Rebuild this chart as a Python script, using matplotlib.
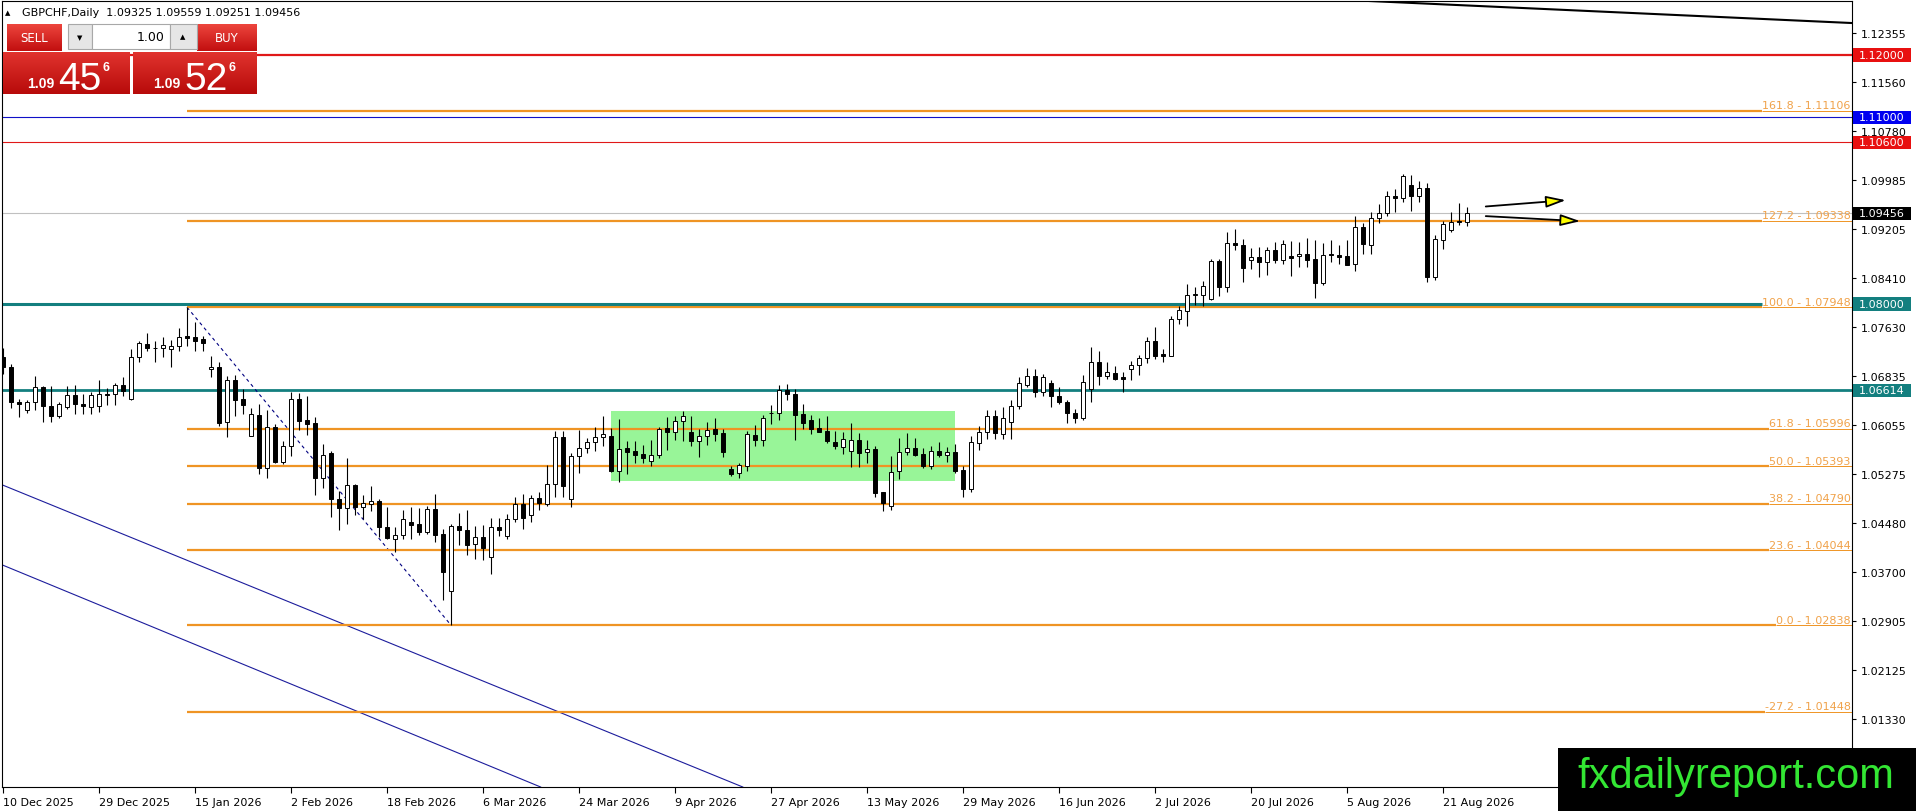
import matplotlib
matplotlib.use("Agg")
import matplotlib.pyplot as plt
import numpy as np
from matplotlib.patches import Rectangle, FancyArrowPatch

# ---- data (GBPCHF daily, bar 0 = 10 Dec 2025) ----
opens = [1.0714, 1.0698, 1.0642, 1.0629, 1.0642, 1.0666, 1.0636, 1.0620, 1.0634, 1.0653,
         1.0640, 1.0634, 1.0636, 1.0656, 1.0656, 1.0669, 1.0647, 1.0715, 1.0736, 1.0730,
         1.0730, 1.0727, 1.0732, 1.0748, 1.0747, 1.0743, 1.0695, 1.0698, 1.0610, 1.0678,
         1.0647, 1.0588, 1.0622, 1.0536, 1.0603, 1.0546, 1.0572, 1.0648, 1.0614, 1.0609,
         1.0521, 1.0561, 1.0487, 1.0472, 1.0509, 1.0473, 1.0478, 1.0483, 1.0441, 1.0423,
         1.0429, 1.0450, 1.0446, 1.0433, 1.0471, 1.0430, 1.0339, 1.0443, 1.0437, 1.0415,
         1.0425, 1.0394, 1.0442, 1.0427, 1.0454, 1.0478, 1.0461, 1.0488, 1.0479, 1.0510,
         1.0586, 1.0486, 1.0555, 1.0568, 1.0578, 1.0586, 1.0587, 1.0532, 1.0568, 1.0563,
         1.0559, 1.0548, 1.0558, 1.0600, 1.0594, 1.0612, 1.0594, 1.0580, 1.0587, 1.0599,
         1.0593, 1.0534, 1.0528, 1.0540, 1.0589, 1.0582, 1.0624, 1.0624, 1.0662, 1.0655,
         1.0623, 1.0613, 1.0601, 1.0596, 1.0578, 1.0570, 1.0564, 1.0582, 1.0562, 1.0567,
         1.0497, 1.0475, 1.0531, 1.0562, 1.0568, 1.0559, 1.0540, 1.0563, 1.0558, 1.0562,
         1.0533, 1.0502, 1.0576, 1.0594, 1.0620, 1.0591, 1.0610, 1.0636, 1.0670, 1.0685,
         1.0658, 1.0673, 1.0652, 1.0642, 1.0625, 1.0617, 1.0663, 1.0707, 1.0684, 1.0689,
         1.0682, 1.0696, 1.0702, 1.0713, 1.0740, 1.0720, 1.0717, 1.0776, 1.0789, 1.0815,
         1.0815, 1.0808, 1.0869, 1.0827, 1.0898, 1.0895, 1.0871, 1.0875, 1.0867, 1.0887,
         1.0870, 1.0877, 1.0877, 1.0880, 1.0872, 1.0833, 1.0880, 1.0879, 1.0877, 1.0864,
         1.0923, 1.0894, 1.0938, 1.0946, 1.0973, 1.0971, 1.0991, 1.0974, 1.0987, 1.0843,
         1.0903, 1.0919, 1.0933, 1.09325]
highs = [1.0729, 1.0704, 1.0647, 1.0645, 1.0684, 1.0668, 1.0668, 1.0642, 1.0668, 1.0670,
         1.0655, 1.0658, 1.0678, 1.0665, 1.0673, 1.0682, 1.0728, 1.0741, 1.0754, 1.0741,
         1.0747, 1.0742, 1.0761, 1.07948, 1.0771, 1.0749, 1.0717, 1.0707, 1.0684, 1.0686,
         1.0663, 1.0632, 1.0639, 1.0629, 1.0607, 1.0580, 1.0658, 1.0657, 1.0652, 1.0618,
         1.0575, 1.0563, 1.0500, 1.0552, 1.0511, 1.0493, 1.0508, 1.0487, 1.0473, 1.0441,
         1.0469, 1.0473, 1.0472, 1.0475, 1.0494, 1.0439, 1.0446, 1.0464, 1.0469, 1.0443,
         1.0444, 1.0456, 1.0456, 1.0463, 1.0489, 1.0495, 1.0493, 1.0497, 1.0541, 1.0596,
         1.0596, 1.0561, 1.0598, 1.0584, 1.0602, 1.0620, 1.0600, 1.0615, 1.0580, 1.0579,
         1.0573, 1.0581, 1.0603, 1.0618, 1.0620, 1.0628, 1.0620, 1.0599, 1.0610, 1.0616,
         1.0599, 1.0539, 1.0545, 1.0596, 1.0606, 1.0621, 1.0638, 1.0669, 1.0671, 1.0664,
         1.0639, 1.0622, 1.0616, 1.0620, 1.0596, 1.0594, 1.0609, 1.0593, 1.0582, 1.0571,
         1.0498, 1.0555, 1.0584, 1.0593, 1.0584, 1.0568, 1.0572, 1.0578, 1.0570, 1.0575,
         1.0540, 1.0587, 1.0604, 1.0629, 1.0629, 1.0634, 1.0646, 1.0682, 1.0697, 1.0696,
         1.0688, 1.0677, 1.0666, 1.0645, 1.0631, 1.0686, 1.0731, 1.0725, 1.0706, 1.0700,
         1.0691, 1.0709, 1.0718, 1.0747, 1.0763, 1.0728, 1.0781, 1.0796, 1.0832, 1.0827,
         1.0837, 1.0873, 1.0873, 1.0916, 1.0920, 1.0904, 1.0890, 1.0891, 1.0891, 1.0899,
         1.0903, 1.0901, 1.0899, 1.0906, 1.0902, 1.0898, 1.0902, 1.0894, 1.0902, 1.0941,
         1.0930, 1.0947, 1.0961, 1.0982, 1.0984, 1.1009, 1.1007, 1.0998, 1.0994, 1.0911,
         1.0934, 1.0947, 1.0963, 1.09559]
lows = [1.0688, 1.0632, 1.0618, 1.0625, 1.0629, 1.0610, 1.0610, 1.0617, 1.0631, 1.0623,
        1.0623, 1.0623, 1.0627, 1.0638, 1.0637, 1.0652, 1.0646, 1.0706, 1.0725, 1.0706,
        1.0715, 1.0699, 1.0724, 1.0732, 1.0725, 1.0725, 1.0682, 1.0604, 1.0586, 1.0620,
        1.0623, 1.0587, 1.0527, 1.0521, 1.0544, 1.0543, 1.0555, 1.0598, 1.0590, 1.0493,
        1.0504, 1.0457, 1.0436, 1.0446, 1.0461, 1.0454, 1.0468, 1.0425, 1.0422, 1.0401,
        1.0422, 1.0422, 1.0428, 1.0430, 1.0417, 1.0325, 1.02838, 1.0412, 1.0397, 1.0390,
        1.0389, 1.0366, 1.0427, 1.0422, 1.0449, 1.0439, 1.0449, 1.0469, 1.0476, 1.0490,
        1.0490, 1.0473, 1.0528, 1.0561, 1.0563, 1.0571, 1.0530, 1.0514, 1.0527, 1.0544,
        1.0545, 1.0540, 1.0552, 1.0565, 1.0582, 1.0580, 1.0572, 1.0554, 1.0573, 1.0579,
        1.0554, 1.0523, 1.0520, 1.0531, 1.0572, 1.0571, 1.0607, 1.0613, 1.0646, 1.0582,
        1.0599, 1.0591, 1.0594, 1.0577, 1.0567, 1.0559, 1.0538, 1.0538, 1.0544, 1.0490,
        1.0468, 1.0469, 1.0518, 1.0558, 1.0556, 1.0537, 1.0534, 1.0554, 1.0546, 1.0529,
        1.0490, 1.0498, 1.0566, 1.0583, 1.0583, 1.0583, 1.0583, 1.0631, 1.0666, 1.0650,
        1.0652, 1.0634, 1.0639, 1.0608, 1.0608, 1.0614, 1.0643, 1.0669, 1.0679, 1.0678,
        1.0658, 1.0678, 1.0686, 1.0705, 1.0712, 1.0707, 1.0716, 1.0767, 1.0765, 1.0798,
        1.0796, 1.0807, 1.0813, 1.0819, 1.0886, 1.0836, 1.0856, 1.0843, 1.0847, 1.0866,
        1.0864, 1.0845, 1.0859, 1.0859, 1.0809, 1.0830, 1.0868, 1.0864, 1.0862, 1.0853,
        1.0881, 1.0881, 1.0930, 1.0942, 1.0948, 1.0964, 1.0950, 1.0964, 1.0836, 1.0838,
        1.0889, 1.0915, 1.0927, 1.09251]
closes = [1.0698, 1.0642, 1.0639, 1.0642, 1.0666, 1.0636, 1.0620, 1.0640, 1.0653, 1.0640,
          1.0636, 1.0653, 1.0655, 1.0654, 1.0669, 1.0660, 1.0714, 1.0737, 1.0729, 1.0730,
          1.0734, 1.0732, 1.0747, 1.0746, 1.0741, 1.0738, 1.0699, 1.0609, 1.0678, 1.0646,
          1.0637, 1.0623, 1.0536, 1.0603, 1.0546, 1.0571, 1.0648, 1.0612, 1.0607, 1.0521,
          1.0557, 1.0486, 1.0472, 1.0509, 1.0473, 1.0480, 1.0483, 1.0441, 1.0424, 1.0429,
          1.0454, 1.0445, 1.0433, 1.0471, 1.0429, 1.0370, 1.0443, 1.0437, 1.0413, 1.0425,
          1.0408, 1.0441, 1.0437, 1.0454, 1.0478, 1.0456, 1.0488, 1.0480, 1.0510, 1.0586,
          1.0508, 1.0555, 1.0568, 1.0578, 1.0586, 1.0591, 1.0532, 1.0567, 1.0562, 1.0558,
          1.0553, 1.0558, 1.0599, 1.0594, 1.0612, 1.0620, 1.0580, 1.0587, 1.0598, 1.0591,
          1.0562, 1.0527, 1.0541, 1.0591, 1.0582, 1.0616, 1.0625, 1.0662, 1.0656, 1.0622,
          1.0609, 1.0599, 1.0595, 1.0579, 1.0571, 1.0583, 1.0582, 1.0561, 1.0567, 1.0496,
          1.0480, 1.0530, 1.0562, 1.0568, 1.0557, 1.0539, 1.0563, 1.0557, 1.0562, 1.0532,
          1.0503, 1.0578, 1.0594, 1.0620, 1.0593, 1.0616, 1.0636, 1.0673, 1.0685, 1.0658,
          1.0682, 1.0652, 1.0642, 1.0624, 1.0616, 1.0675, 1.0707, 1.0684, 1.0690, 1.0680,
          1.0680, 1.0702, 1.0713, 1.0740, 1.0717, 1.0717, 1.0776, 1.0790, 1.0815, 1.0816,
          1.0829, 1.0869, 1.0828, 1.0898, 1.0894, 1.0857, 1.0875, 1.0867, 1.0887, 1.0870,
          1.0896, 1.0874, 1.0880, 1.0871, 1.0833, 1.0879, 1.0878, 1.0876, 1.0863, 1.0923,
          1.0897, 1.0938, 1.0946, 1.0973, 1.0971, 1.1005, 1.0974, 1.0987, 1.0843, 1.0904,
          1.0928, 1.0931, 1.0931, 1.09456]

date_ticks = list(range(0, 181, 12))
date_labels = ["10 Dec 2025", "29 Dec 2025", "15 Jan 2026", "2 Feb 2026", "18 Feb 2026",
               "6 Mar 2026", "24 Mar 2026", "9 Apr 2026", "27 Apr 2026", "13 May 2026",
               "29 May 2026", "16 Jun 2026", "2 Jul 2026", "20 Jul 2026", "5 Aug 2026",
               "21 Aug 2026"]
price_ticks = [1.12355, 1.11560, 1.10780, 1.09985, 1.09205, 1.08410, 1.07630, 1.06835,
               1.06055, 1.05275, 1.04480, 1.03700, 1.02905, 1.02125, 1.01330]

fib_levels = [161.8, 127.2, 100.0, 61.8, 50.0, 38.2, 23.6, 0.0, -27.2]
fib_prices = [1.11106, 1.09338, 1.07948, 1.05996, 1.05393, 1.04790, 1.04044, 1.02838, 1.01448]
fib_anchor = [(23, 1.07948), (56, 1.02838)]

# horizontal levels: price, colour, width, box label colour
levels = [(1.12000, "#e01818", 1.6, "#e81010"),
          (1.11000, "#1010c8", 0.8, "#0000f0"),
          (1.10600, "#e01818", 0.8, "#e81010"),
          (1.06614, "#137f7f", 2.0, "#137f7f")]
current_price = 1.09456
teal_level = 1.08000

zone = (76, 119, 1.0515, 1.06275)  # x0, x1, low, high
trend_top = [(173.5, 1.12853), (231.1, 1.12515)]
channel = [[(-0.375, 1.05107), (91.25, 1.00301)],
           [(-0.375, 1.03821), (66.9, 1.00253)]]
arrows = [((185.0, 1.09563), (195.7, 1.09671)),
          ((185.0, 1.09414), (197.5, 1.09328))]

FIB = "#ef9424"
FIB_TXT = "#f0a24a"

W, H = 1916, 812
fig = plt.figure(figsize=(W / 100, H / 100), dpi=100)
fig.patch.set_facecolor("white")
ax = fig.add_axes([2 / W, 24 / H, 1850 / W, 786 / H])
ax.set_xlim(-0.125, 231.125)
ax.set_ylim(1.00237, 1.12869)
for s in ax.spines.values():
    s.set_color("black")
    s.set_linewidth(0.8)

# zone
ax.add_patch(Rectangle((zone[0], zone[2]), zone[1] - zone[0], zone[3] - zone[2],
                       facecolor="#98f598", edgecolor="none", zorder=1))

# horizontal levels
for p, col, lw, _ in levels:
    ax.axhline(p, color=col, lw=lw, zorder=2)
ax.axhline(current_price, color="#c0c0c0", lw=0.8, zorder=2)

# diagonal lines
ax.axline(trend_top[0], trend_top[1], color="black", lw=1.5, zorder=2)
for a, b in channel:
    ax.axline(a, b, color="#1c1c9c", lw=0.8, zorder=2)
ax.plot([fib_anchor[0][0], fib_anchor[1][0]], [fib_anchor[0][1], fib_anchor[1][1]],
        color="#000080", lw=0.8, ls=(0, (3, 3)), zorder=2)

# fibo labels, then the lines up to them
fib_texts = []
for lvl, p in zip(fib_levels, fib_prices):
    t = ax.text(0.9993, p + 0.00004, f"{lvl:.1f} - {p:.5f}", transform=ax.get_yaxis_transform(),
                ha="right", va="bottom", color=FIB_TXT, fontsize=8, zorder=4)
    fib_texts.append(t)
fig.canvas.draw()
inv = ax.transData.inverted()
xmax = ax.get_xlim()[1]
for t, p in zip(fib_texts, fib_prices):
    ext = t.get_window_extent()
    x_txt = inv.transform((ext.x0, ext.y0))[0]
    ax.hlines(p, fib_anchor[0][0], x_txt, color=FIB, lw=1.6, zorder=2)
    ax.hlines(p, x_txt, xmax, color=FIB, lw=0.7, zorder=2)
    if p == fib_anchor[0][1]:
        ax.hlines(teal_level, -0.125, x_txt, color="#137f7f", lw=2.2, zorder=2)

# candles
x = np.arange(len(opens))
o = np.array(opens); h = np.array(highs); l = np.array(lows); c = np.array(closes)
up = c >= o
ax.vlines(x, l, h, color="black", lw=0.8, zorder=3)
ax.bar(x, np.abs(c - o), bottom=np.minimum(o, c), width=0.6,
       color=np.where(up, "white", "black"), edgecolor="black", linewidth=0.7, zorder=4)

# arrows
for a, b in arrows:
    ax.add_patch(FancyArrowPatch(a, b, arrowstyle="-|>,head_length=1.2,head_width=0.35",
                                 mutation_scale=10, facecolor="#ffff00", edgecolor="black",
                                 lw=1.3, zorder=5))

# axes ticks
ax.yaxis.tick_right()
ax.set_yticks(price_ticks)
ax.set_yticklabels([f"{v:.5f}" for v in price_ticks])
ax.tick_params(axis="y", direction="out", length=3, width=0.8, pad=3, labelsize=8,
               colors="black")
ax.set_xticks(date_ticks)
ax.set_xticklabels(date_labels)
ax.tick_params(axis="x", direction="out", length=4, width=0.8, pad=3, labelsize=8)
for lab in ax.get_xticklabels():
    lab.set_ha("left")

# price boxes on the right
ytr = ax.get_yaxis_transform()
box_items = [(p, bc) for p, _, _, bc in levels] + [(current_price, "black"), (teal_level, "#137f7f")]
for p, bc in box_items:
    ax.add_patch(Rectangle((1.0006, p - 0.00107), 58 / 1850, 0.00214, transform=ytr,
                           facecolor=bc, edgecolor="none", clip_on=False, zorder=6))
    ax.text(1.0006 + 29 / 1850, p, f"{p:.5f}", transform=ytr, ha="center", va="center",
            color="white", fontsize=8, clip_on=False, zorder=7)

# ---- overlay: title, trade panel, watermark ----
ui = fig.add_axes([0, 0, 1, 1], zorder=5)
ui.patch.set_alpha(0)


def red_box(x0, y0, w, hgt, top=(0.93, 0.27, 0.24), bot=(0.76, 0.06, 0.06)):
    grad = np.linspace(0, 1, 50)[:, None, None]
    img = np.array(top)[None, None, :] * (1 - grad) + np.array(bot)[None, None, :] * grad
    ui.imshow(img, extent=(x0, x0 + w, y0 + hgt, y0), aspect="auto", zorder=2)


red_box(7, 25, 55, 27)
red_box(197, 25, 60, 27)
red_box(3, 53, 127, 42, top=(0.88, 0.2, 0.18), bot=(0.72, 0.04, 0.04))
red_box(133, 53, 124, 42, top=(0.88, 0.2, 0.18), bot=(0.72, 0.04, 0.04))
ui.add_patch(Rectangle((68, 25), 24, 25, facecolor="#e6e6e6", edgecolor="#a8a8a8", lw=0.8, zorder=2))
ui.add_patch(Rectangle((92, 25), 78, 25, facecolor="white", edgecolor="#a8a8a8", lw=0.8, zorder=2))
ui.add_patch(Rectangle((170, 25), 27, 25, facecolor="#e6e6e6", edgecolor="#a8a8a8", lw=0.8, zorder=2))
ui.text(80, 38, "▼", fontsize=5, ha="center", va="center", zorder=3)
ui.text(183, 37, "▲", fontsize=5, ha="center", va="center", zorder=3)
ui.text(165, 37.5, "1.00", fontsize=9, ha="right", va="center", zorder=3)
ui.text(34, 38, "SELL", fontsize=8.5, color="white", ha="center", va="center", zorder=3)
ui.text(227, 38, "BUY", fontsize=8.5, color="white", ha="center", va="center", zorder=3)
for x0, big in [(27, "45"), (153, "52")]:
    ui.text(x0, 88, "1.09", fontsize=10, fontweight="bold", color="white",
            family="Liberation Sans", va="baseline", zorder=3)
    ui.text(x0 + 31, 90, big, fontsize=28, color="white", family="Liberation Sans",
            va="baseline", zorder=3)
    ui.text(x0 + 76, 71, "6", fontsize=9, fontweight="bold", color="white",
            family="Liberation Sans", va="baseline", zorder=3)

ui.text(5, 13, "▲", fontsize=5, va="center", zorder=3)
ui.text(22, 13, "GBPCHF,Daily  1.09325 1.09559 1.09251 1.09456", fontsize=8,
        va="center", zorder=3)

ui.add_patch(Rectangle((1558, 749), 358, 63, facecolor="black", edgecolor="none", zorder=4))
ui.text(1736, 788, "fxdailyreport.com", fontsize=30, color="#33e633",
        family="Liberation Sans", ha="center", va="baseline", zorder=5)

ui.set_xlim(0, W)
ui.set_ylim(H, 0)
ui.axis("off")

fig.savefig("out.png", dpi=100)
